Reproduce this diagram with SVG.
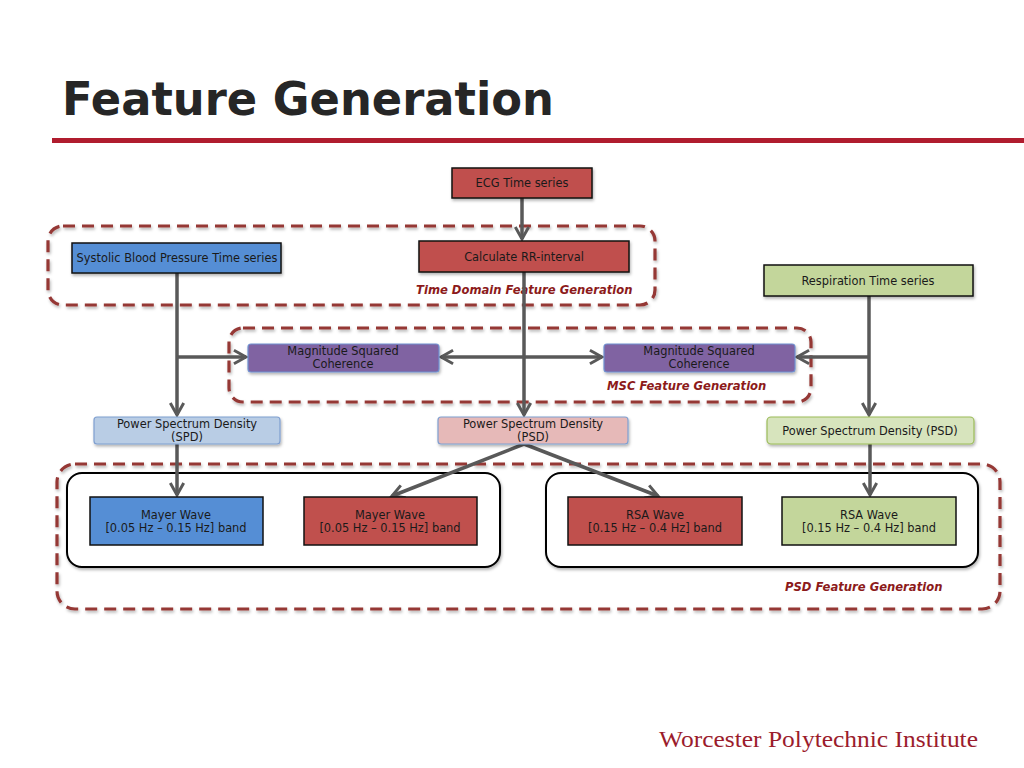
<svg xmlns="http://www.w3.org/2000/svg" width="1024" height="768" viewBox="0 0 1024 768">
<defs>
<style>
.t{font-family:"DejaVu Sans","Verdana",sans-serif;font-size:11.4px;fill:#1a1a1a;text-anchor:middle}
.lbl{font-family:"DejaVu Sans","Verdana",sans-serif;font-size:11.6px;font-weight:bold;font-style:italic;fill:#8c1a1a}
.grp{fill:none;stroke:#953735;stroke-width:3.2;stroke-dasharray:12 7}
.inner{fill:#fff;stroke:#000;stroke-width:2}
.box{stroke:#111;stroke-width:1.5}
.soft{stroke-width:1.2}
.c{fill:none;stroke:#595959;stroke-width:3.5}
</style>
<marker id="ah" viewBox="0 0 12 12" refX="10" refY="6" markerWidth="4.6" markerHeight="4.6" markerUnits="strokeWidth" orient="auto-start-reverse">
<path d="M1,1 L10,6 L1,11" fill="none" stroke="#595959" stroke-width="2.2"/>
</marker>
<filter id="sh" x="-10%" y="-10%" width="120%" height="130%">
<feDropShadow dx="1" dy="2" stdDeviation="1.5" flood-color="#000" flood-opacity="0.3"/>
</filter>
</defs>
<rect width="1024" height="768" fill="#fff"/>
<text x="62" y="115" font-family="DejaVu Sans, Verdana, sans-serif" font-weight="bold" font-size="46" fill="#262626" textLength="492" lengthAdjust="spacingAndGlyphs">Feature Generation</text>
<rect x="52" y="138" width="972" height="5" fill="#b01c2e"/>

<g id="groups">
<rect class="grp" x="48" y="226" width="607" height="79" rx="15" filter="url(#sh)"/>
<rect class="grp" x="229" y="328" width="582" height="74" rx="14" filter="url(#sh)"/>
<rect class="grp" x="57" y="464" width="943" height="145" rx="18" filter="url(#sh)"/>
<rect class="inner" x="67" y="473" width="433" height="94" rx="15" filter="url(#sh)"/>
<rect class="inner" x="546" y="473" width="432" height="94" rx="15" filter="url(#sh)"/>
<text class="lbl" x="416" y="294">Time Domain Feature Generation</text>
<text class="lbl" x="607" y="390">MSC Feature Generation</text>
<text class="lbl" x="785" y="591">PSD Feature Generation</text>
</g>

<g id="connectors">
<line class="c" x1="522" y1="198" x2="522" y2="239" marker-end="url(#ah)"/>
<line class="c" x1="177" y1="273" x2="177" y2="415" marker-end="url(#ah)"/>
<line class="c" x1="177" y1="357" x2="246" y2="357" marker-end="url(#ah)"/>
<line class="c" x1="524" y1="272" x2="524" y2="415" marker-end="url(#ah)"/>
<line class="c" x1="441" y1="357" x2="602" y2="357" marker-start="url(#ah)" marker-end="url(#ah)"/>
<line class="c" x1="869" y1="296" x2="869" y2="415" marker-end="url(#ah)"/>
<line class="c" x1="869" y1="357" x2="797" y2="357" marker-end="url(#ah)"/>
<line class="c" x1="177" y1="444" x2="177" y2="495" marker-end="url(#ah)"/>
<line class="c" x1="524" y1="444" x2="392" y2="496" marker-end="url(#ah)"/>
<line class="c" x1="524" y1="444" x2="658" y2="496" marker-end="url(#ah)"/>
<line class="c" x1="870" y1="444" x2="870" y2="495" marker-end="url(#ah)"/>
</g>

<g id="ecg"><rect class="box" x="452" y="168" width="140" height="30" fill="#c0504d" filter="url(#sh)"/><text class="t" x="522" y="187">ECG Time series</text></g>
<g id="sbp"><rect class="box" x="72" y="243" width="209" height="30" fill="#558ed5" filter="url(#sh)"/><text class="t" x="177" y="262">Systolic Blood Pressure Time series</text></g>
<g id="rr"><rect class="box" x="419" y="241" width="210" height="31" fill="#c0504d" filter="url(#sh)"/><text class="t" x="524" y="261">Calculate RR-interval</text></g>
<g id="resp"><rect class="box" x="764" y="265" width="209" height="31" fill="#c3d69b" filter="url(#sh)"/><text class="t" x="868" y="285">Respiration Time series</text></g>

<g id="msc1"><rect class="soft" x="248" y="344" width="191" height="28" rx="3" fill="#8064a2" stroke="#6f8fcf" filter="url(#sh)"/><text class="t" x="343" y="355">Magnitude Squared</text><text class="t" x="343" y="368">Coherence</text></g>
<g id="msc2"><rect class="soft" x="604" y="344" width="191" height="28" rx="3" fill="#8064a2" stroke="#6f8fcf" filter="url(#sh)"/><text class="t" x="699" y="355">Magnitude Squared</text><text class="t" x="699" y="368">Coherence</text></g>

<g id="spd"><rect class="soft" x="94" y="417" width="186" height="27" rx="3" fill="#b9cde5" stroke="#7f9fd0" filter="url(#sh)"/><text class="t" x="187" y="428">Power Spectrum Density</text><text class="t" x="187" y="441">(SPD)</text></g>
<g id="psd"><rect class="soft" x="438" y="417" width="190" height="27" rx="3" fill="#e6b9b8" stroke="#7f9fd0" filter="url(#sh)"/><text class="t" x="533" y="428">Power Spectrum Density</text><text class="t" x="533" y="441">(PSD)</text></g>
<g id="psdr"><rect class="soft" x="767" y="417" width="207" height="27" rx="4" fill="#d7e4bd" stroke="#9bbb59" filter="url(#sh)"/><text class="t" x="870" y="435">Power Spectrum Density (PSD)</text></g>

<g id="mayer1"><rect class="box" x="90" y="497" width="173" height="48" fill="#558ed5"/><text class="t" x="176" y="519">Mayer Wave</text><text class="t" x="176" y="532">[0.05 Hz – 0.15 Hz] band</text></g>
<g id="mayer2"><rect class="box" x="304" y="497" width="173" height="48" fill="#c0504d"/><text class="t" x="390" y="519">Mayer Wave</text><text class="t" x="390" y="532">[0.05 Hz – 0.15 Hz] band</text></g>
<g id="rsa1"><rect class="box" x="568" y="497" width="174" height="48" fill="#c0504d"/><text class="t" x="655" y="519">RSA Wave</text><text class="t" x="655" y="532">[0.15 Hz – 0.4 Hz] band</text></g>
<g id="rsa2"><rect class="box" x="782" y="497" width="174" height="48" fill="#c3d69b"/><text class="t" x="869" y="519">RSA Wave</text><text class="t" x="869" y="532">[0.15 Hz – 0.4 Hz] band</text></g>

<text x="659" y="747" font-family="Liberation Serif, Times New Roman, serif" font-size="24" fill="#9b1c2c" textLength="319" lengthAdjust="spacingAndGlyphs">Worcester Polytechnic Institute</text>
</svg>
